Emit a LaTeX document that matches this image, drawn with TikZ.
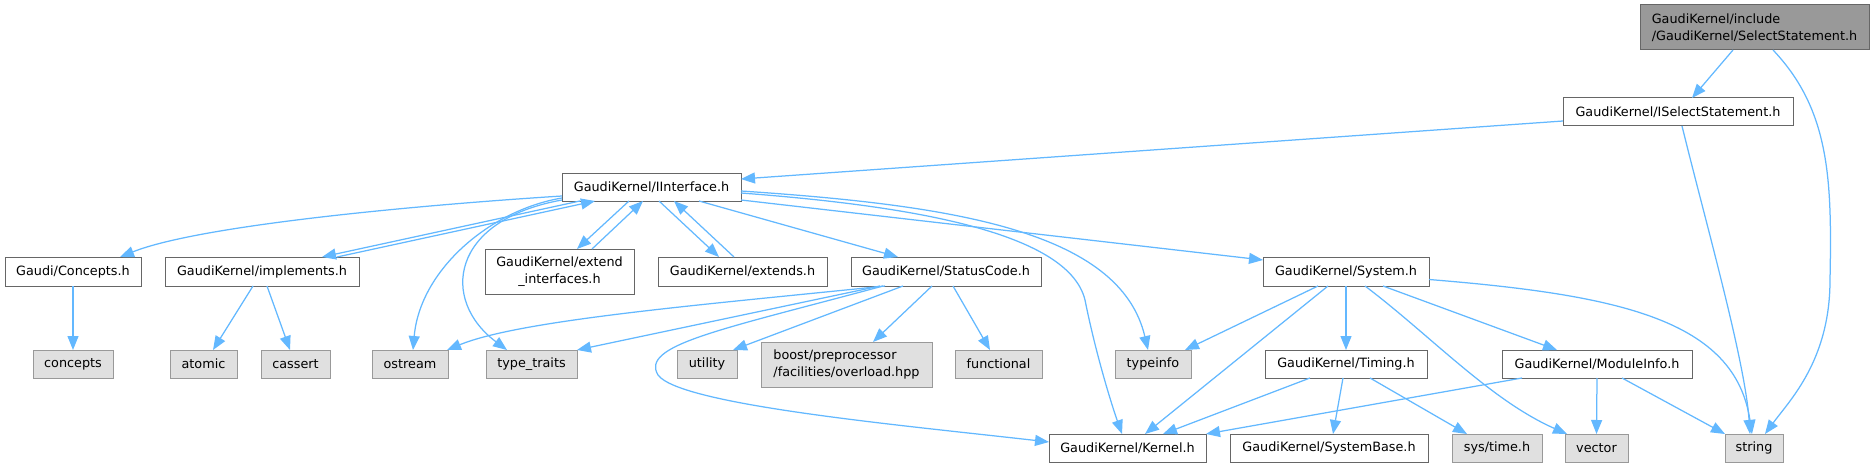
\documentclass[tikz,border=0pt]{standalone}
\usepackage{fontspec}
\setmainfont{DejaVu Sans}
\usetikzlibrary{arrows.meta}
\definecolor{edgec}{HTML}{63B8FF}
\definecolor{bordA}{HTML}{666666}
\definecolor{bordB}{HTML}{999999}
\definecolor{extfill}{HTML}{E0E0E0}
\definecolor{rootfill}{HTML}{999999}
\tikzset{
  box/.style={draw=bordA, fill=white, line width=1pt, inner sep=0pt, outer sep=0pt,
    font=\fontsize{12.8pt}{16.5pt}\selectfont, align=center, text=black},
  gbox/.style={box, draw=bordB, fill=extfill},
  rootbox/.style={box, draw=bordA, fill=rootfill, align=left},
  arr/.style={draw=edgec, line width=1.25pt, -{Triangle[length=14pt,width=11pt]}}
}
\begin{document}
\begin{tikzpicture}[x=1pt,y=-1pt]
\useasboundingbox (0,0) rectangle (1874,468);
% nodes
\node[rootbox, minimum width=229pt, minimum height=45pt] (sel) at (1754.5,27.5) {GaudiKernel/include\\/GaudiKernel/SelectStatement.h};
\node[box, minimum width=230pt, minimum height=28pt] (isel) at (1678,112) {GaudiKernel/ISelectStatement.h};
\node[box, minimum width=179pt, minimum height=28pt] (iint) at (651.5,187) {GaudiKernel/IInterface.h};
\node[box, minimum width=136pt, minimum height=29pt] (conc) at (73,271.5) {Gaudi/Concepts.h};
\node[box, minimum width=194pt, minimum height=29pt] (impl) at (262,271.5) {GaudiKernel/implements.h};
\node[box, minimum width=149pt, minimum height=45pt] (extint) at (559.5,271.5) {GaudiKernel/extend\\\_interfaces.h};
\node[box, minimum width=169pt, minimum height=29pt] (ext) at (742.5,271.5) {GaudiKernel/extends.h};
\node[box, minimum width=190pt, minimum height=29pt] (status) at (946,271.5) {GaudiKernel/StatusCode.h};
\node[box, minimum width=166pt, minimum height=29pt] (system) at (1346,271.5) {GaudiKernel/System.h};
\node[gbox, minimum width=80pt, minimum height=28pt] (concepts) at (73,364) {concepts};
\node[gbox, minimum width=67pt, minimum height=28pt] (atomic) at (203.5,364) {atomic};
\node[gbox, minimum width=69pt, minimum height=28pt] (cassert) at (295.5,364) {cassert};
\node[gbox, minimum width=76pt, minimum height=28pt] (ostream) at (410,364) {ostream};
\node[gbox, minimum width=91pt, minimum height=28pt] (type) at (531.5,364) {type\_traits};
\node[gbox, minimum width=60pt, minimum height=28pt] (utility) at (707,364) {utility};
\node[gbox, minimum width=171pt, minimum height=45pt, align=left] (boost) at (846.5,364.5) {boost/preprocessor\\/facilities/overload.hpp};
\node[gbox, minimum width=87pt, minimum height=28pt] (functional) at (998.5,364) {functional};
\node[gbox, minimum width=76pt, minimum height=28pt] (typeinfo) at (1153,364) {typeinfo};
\node[box, minimum width=162pt, minimum height=28pt] (timing) at (1346,364) {GaudiKernel/Timing.h};
\node[box, minimum width=190pt, minimum height=28pt] (moduleinfo) at (1597,364) {GaudiKernel/ModuleInfo.h};
\node[box, minimum width=157pt, minimum height=28pt] (kernel) at (1127.5,448) {GaudiKernel/Kernel.h};
\node[box, minimum width=198pt, minimum height=28pt] (systembase) at (1329,448) {GaudiKernel/SystemBase.h};
\node[gbox, minimum width=90pt, minimum height=28pt] (systime) at (1497,448) {sys/time.h};
\node[gbox, minimum width=63pt, minimum height=28pt] (vector) at (1596.5,448) {vector};
\node[gbox, minimum width=58pt, minimum height=28pt] (string) at (1754,448) {string};
% edges from SelectStatement
\draw[arr] ([xshift=93pt]sel.south west) -- ([xshift=129pt]isel.north west);
\draw[arr] ([xshift=133pt]sel.south west) .. controls (1830,110) and (1832,180) .. (1830,280) .. controls (1830,360) and (1790,400) .. ([xshift=40pt]string.north west);
% ISelectStatement
\draw[arr] ([yshift=-9pt]isel.west) -- ([yshift=8pt]iint.east);
\draw[arr] ([xshift=119pt]isel.south west) .. controls (1705,220) and (1745,360) .. ([xshift=25pt]string.north west);
% IInterface
\draw[arr] ([yshift=-9pt]iint.west) .. controls (420,205) and (200,225) .. ([xshift=115pt]conc.north west);
\draw[arr] ([xshift=18pt]iint.south west) -- ([xshift=157pt]impl.north west);
\draw[arr] ([xshift=172pt]impl.north west) -- ([xshift=33pt]iint.south west);
\draw[arr] ([yshift=-11pt]iint.west) .. controls (490,210) and (420,270) .. ([xshift=41pt]ostream.north west);
\draw[arr] ([yshift=-13pt]iint.west) .. controls (450,220) and (440,300) .. ([xshift=21pt]type.north west);
\draw[arr] ([xshift=67pt]iint.south west) -- ([xshift=92pt]extint.north west);
\draw[arr] ([xshift=107pt]extint.north west) -- ([xshift=81pt]iint.south west);
\draw[arr] ([xshift=97pt]iint.south west) -- ([xshift=61pt]ext.north west);
\draw[arr] ([xshift=76pt]ext.north west) -- ([xshift=112pt]iint.south west);
\draw[arr] ([xshift=137pt]iint.south west) -- ([xshift=47pt]status.north west);
\draw[arr] ([yshift=-13pt]iint.east) -- ([yshift=-3pt]system.north west);
\draw[arr] ([yshift=-4pt]iint.east) .. controls (950,205) and (1120,230) .. ([xshift=33pt]typeinfo.north west);
\draw[arr] ([yshift=-6pt]iint.east) .. controls (900,205) and (1068,230) .. (1085,300) .. controls (1095,350) and (1110,400) .. ([xshift=73pt]kernel.north west);
% StatusCode
\draw[arr] ([xshift=34pt]status.south west) .. controls (700,305) and (520,320) .. ([xshift=-1pt]ostream.north east);
\draw[arr] ([xshift=29pt]status.south west) -- (type.north east);
\draw[arr] ([xshift=52pt]status.south west) -- ([xshift=-4pt]utility.north east);
\draw[arr] ([xshift=81pt]status.south west) -- ([xshift=112pt]boost.north west);
\draw[arr] ([xshift=102pt]status.south west) -- ([xshift=35pt]functional.north west);
\draw[arr] ([xshift=32pt]status.south west) .. controls (720,330) and (640,345) .. (658,375) .. controls (680,405) and (900,425) .. ([yshift=6pt]kernel.west);
% System
\draw[arr] ([xshift=55pt]system.south west) -- ([xshift=-6pt]typeinfo.north east);
\draw[arr] ([xshift=65pt]system.south west) -- ([xshift=96pt]kernel.north west);
\draw[arr] (system) -- (timing);
\draw[arr] ([xshift=102pt]system.south west) .. controls (1430,335) and (1490,400) .. ([xshift=2pt]vector.north west);
\draw[arr] ([xshift=120pt]system.south west) -- ([xshift=55pt]moduleinfo.north west);
\draw[arr] ([yshift=-8pt]system.east) .. controls (1620,295) and (1735,320) .. ([xshift=27pt]string.north west);
% Timing
\draw[arr] ([xshift=45pt]timing.south west) -- ([xshift=114pt]kernel.north west);
\draw[arr] ([xshift=78pt]timing.south west) -- ([xshift=103pt]systembase.north west);
\draw[arr] ([xshift=105pt]timing.south west) -- ([xshift=15pt]systime.north west);
% ModuleInfo
\draw[arr] ([xshift=20pt]moduleinfo.south west) -- (kernel.north east);
\draw[arr] (moduleinfo.south) -- (vector.north);
\draw[arr] ([xshift=120pt]moduleinfo.south west) -- (string.north west);
% Concepts / implements
\draw[arr] (conc) -- (concepts);
\draw[arr] ([xshift=88pt]impl.south west) -- ([xshift=43pt]atomic.north west);
\draw[arr] ([xshift=102pt]impl.south west) -- ([xshift=29pt]cassert.north west);
\end{tikzpicture}
\end{document}
